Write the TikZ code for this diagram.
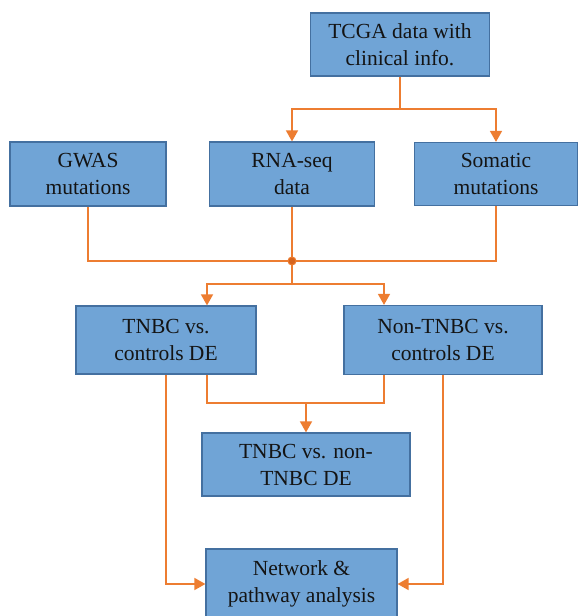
\documentclass[tikz,border=0pt]{standalone}
\usepackage{fontspec}
\setmainfont{Liberation Serif}
\usepackage{tikz}
\usetikzlibrary{arrows.meta,calc}

\definecolor{boxfill}{RGB}{112,164,214}
\definecolor{boxline}{RGB}{68,112,160}
\definecolor{flow}{RGB}{237,125,49}
\definecolor{hubfill}{RGB}{214,100,30}

\tikzset{
    stage/.style={draw=boxline, line width=1.2pt, fill=boxfill, align=center,
        inner sep=0pt, text=black!92, font=\fontsize{21.5}{27}\selectfont},
    link/.style={draw=flow, line width=1.6pt},
    linkarrow/.style={link, -{Triangle[length=11pt,width=12pt]}}
}

\begin{document}
\begin{tikzpicture}[x=1pt, y=-1pt]
    \useasboundingbox (0,0) rectangle (578,616);

    % Draw the boxes
    \node[stage, minimum width=179pt, minimum height=63pt] (tcga) at (400,44.5) {TCGA data with\\clinical info.};
    \node[stage, minimum width=156pt, minimum height=64pt] (gwas) at (88,174) {GWAS\\mutations};
    \node[stage, minimum width=165pt, minimum height=64pt] (rnaseq) at (292,174) {RNA-seq\\data};
    \node[stage, minimum width=163pt, minimum height=63pt] (somatic) at (496,174) {Somatic\\mutations};
    \node[stage, minimum width=180pt, minimum height=68pt] (tnbcde) at (166,340) {TNBC vs.\\controls DE};
    \node[stage, minimum width=198pt, minimum height=69pt] (nontnbcde) at (443,340) {Non-TNBC vs.\\controls DE};
    \node[stage, minimum width=208pt, minimum height=63pt] (tnbcvsnon) at (306,464.5) {TNBC vs. non-\\TNBC DE};
    \node[stage, minimum width=191pt, minimum height=70pt] (network) at (301.5,584) {Network \&\\pathway analysis};

    % Split of the TCGA data
    \coordinate (tcgasplit) at (tcga.south |- 0,109);
    \draw[link] (tcga.south) -- (tcgasplit);
    \draw[linkarrow] (tcgasplit) -| (rnaseq.north);
    \draw[linkarrow] (tcgasplit) -| (somatic.north);

    % Merge the three inputs
    \coordinate (hub) at (rnaseq.south |- 0,261);
    \coordinate (fork) at (rnaseq.south |- 0,284);
    \draw[link] (gwas.south) |- (hub);
    \draw[link] (somatic.south) |- (hub);
    \draw[link] (rnaseq.south) -- (fork);
    \draw[linkarrow] (fork) -| ($(tnbcde.north)+(41,0)$);
    \draw[linkarrow] (fork) -| ($(nontnbcde.north)+(-59,0)$);
    \filldraw[draw=flow, fill=hubfill, line width=1pt] (hub) circle (4pt);

    % Both DE results into TNBC vs. non-TNBC
    \coordinate (demerge) at (tnbcvsnon.north |- 0,403);
    \draw[link] ($(tnbcde.south)+(41,0)$) |- (demerge);
    \draw[link] ($(nontnbcde.south)+(-59,0)$) |- (demerge);
    \draw[linkarrow] (demerge) -- (tnbcvsnon.north);

    % Both DE results into the network analysis
    \draw[linkarrow] (tnbcde.south) |- (network.west);
    \draw[linkarrow] (nontnbcde.south) |- (network.east);
\end{tikzpicture}
\end{document}
